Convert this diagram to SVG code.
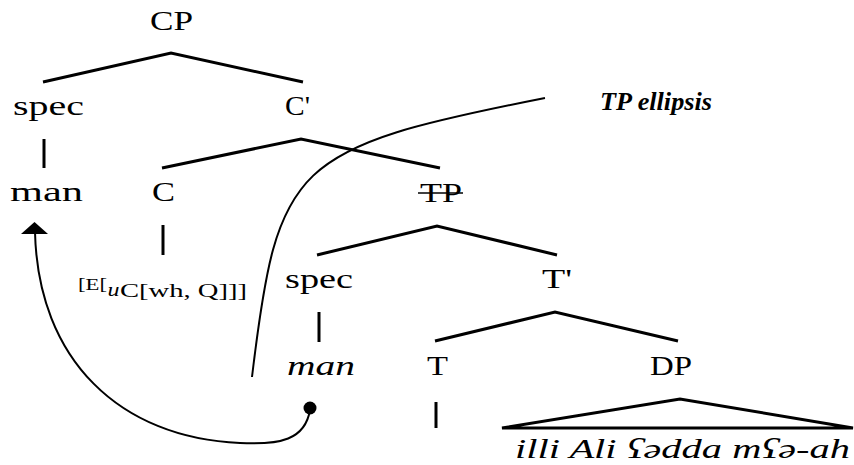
<svg xmlns="http://www.w3.org/2000/svg" width="854" height="465" viewBox="0 0 854 465">
<defs>
<style>
  text { font-family: "Liberation Serif", serif; fill: #000; }
  .br { fill: none; stroke: #000; stroke-width: 3; stroke-linecap: butt; }
  .cv { fill: none; stroke: #000; stroke-width: 2; }
</style>
</defs>
<rect width="854" height="465" fill="#fff"/>
<g id="connectors">
  <polyline class="br" points="43,82 171,53 303,82"/>
  <line class="br" x1="44" y1="139" x2="44" y2="168"/>
  <polyline class="br" points="162,168 301,139 440,168"/>
  <line class="br" x1="163" y1="225" x2="163" y2="255"/>
  <polyline class="br" points="317,255 437,226 557,255"/>
  <line class="br" x1="319" y1="312" x2="319" y2="342"/>
  <polyline class="br" points="435,341 555,312 678,341"/>
  <line class="br" x1="436" y1="402" x2="436" y2="428"/>
  <polygon class="br" points="502,428 680,399 853,428"/>
  <path id="ellipsis-curve" class="cv" d="M545,98 C292,148 277.6,162 252,377"/>
  <path id="movement" class="cv" d="M310,410 C305,440 280,445 240,443 C120,438 38,360 35,232"/>
  <polygon points="21,234 48,234 34.5,222" fill="#000"/>
  <circle cx="310" cy="408" r="6.5" fill="#000"/>
</g>
<g id="n-CP"><text x="150" y="30" font-size="27" textLength="43" lengthAdjust="spacingAndGlyphs">CP</text></g>
<g id="n-spec1"><text x="13" y="115" font-size="27" textLength="71" lengthAdjust="spacingAndGlyphs">spec</text></g>
<g id="n-Cbar"><text x="285" y="115" font-size="27" textLength="25" lengthAdjust="spacingAndGlyphs">C'</text></g>
<g id="n-man1"><text x="10" y="201" font-size="27" textLength="73" lengthAdjust="spacingAndGlyphs">man</text></g>
<g id="n-C"><text x="152" y="201" font-size="27" textLength="23" lengthAdjust="spacingAndGlyphs">C</text></g>
<g id="n-TP">
  <text x="420" y="202" font-size="27" textLength="42" lengthAdjust="spacingAndGlyphs">TP</text>
  <line x1="418" y1="193" x2="463" y2="193" stroke="#000" stroke-width="1.6"/>
</g>
<g id="n-feature">
  <text x="78" y="290" font-size="17" textLength="29" lengthAdjust="spacingAndGlyphs">[E[</text>
  <text x="107.5" y="296" font-size="18" font-style="italic" textLength="12" lengthAdjust="spacingAndGlyphs">u</text>
  <text x="120" y="297" font-size="18" textLength="127" lengthAdjust="spacingAndGlyphs">C[wh, Q]]]</text>
</g>
<g id="n-spec2"><text x="285" y="288" font-size="27" textLength="68" lengthAdjust="spacingAndGlyphs">spec</text></g>
<g id="n-Tbar"><text x="542" y="288" font-size="27" textLength="30" lengthAdjust="spacingAndGlyphs">T'</text></g>
<g id="n-man2"><text x="287" y="375" font-size="27" font-style="italic" textLength="68" lengthAdjust="spacingAndGlyphs">man</text></g>
<g id="n-T"><text x="427" y="375" font-size="27" textLength="21" lengthAdjust="spacingAndGlyphs">T</text></g>
<g id="n-DP"><text x="650" y="375" font-size="27" textLength="42" lengthAdjust="spacingAndGlyphs">DP</text></g>
<g id="n-DPtext"><text x="515" y="458" font-size="27" font-style="italic" textLength="335" lengthAdjust="spacingAndGlyphs">illi Ali ʕədda mʕə-ah</text></g>
<g id="n-ellipsis"><text x="600" y="110" font-size="26" font-style="italic" font-weight="bold" textLength="112" lengthAdjust="spacingAndGlyphs">TP ellipsis</text></g>
</svg>
